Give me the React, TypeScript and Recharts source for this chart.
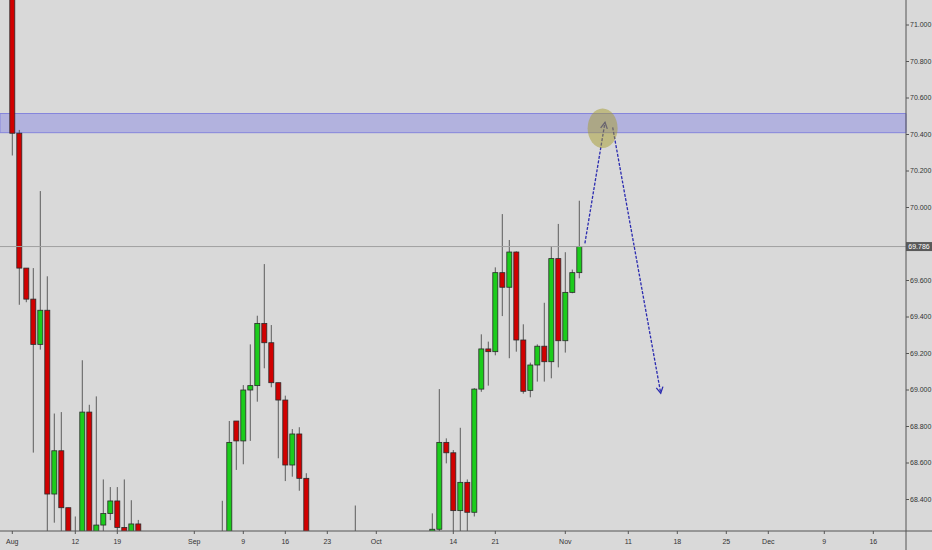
import React from 'react';
import {
  ComposedChart,
  Bar,
  XAxis,
  YAxis,
  ReferenceLine,
  ReferenceArea,
  ReferenceDot,
} from 'recharts';

// ---- data (daily candles, index = trading-day slot) ----
const candleIndex = [
  0, 1, 2, 3, 4, 5, 6, 7, 8, 9, 10, 11, 12, 13, 14, 15, 16, 17, 18,
  30, 31, 32, 33, 34, 35, 36, 37, 38, 39, 40, 41, 42,
  49,
  60, 61, 62, 63, 64, 65, 66, 67, 68, 69, 70, 71, 72, 73, 74, 75, 76, 77, 78, 79, 80, 81,
];
const openPrices = [
  71.6, 70.407, 69.668, 69.498, 69.25, 69.437, 68.43, 68.667, 68.355, 67.95, 68.05, 68.879, 68.05, 68.26, 68.323, 68.392, 68.247, 68.18, 68.266,
  67.95, 68.1, 68.83, 68.721, 69.0, 69.024, 69.365, 69.259, 69.04, 68.945, 68.589, 68.759, 68.516,
  67.95,
  68.18, 68.237, 68.713, 68.656, 68.339, 68.494, 68.33, 69.005, 69.225, 69.21, 69.643, 69.563, 69.756, 69.274, 68.998, 69.137, 69.24, 69.155, 69.72, 69.27, 69.535, 69.643,
];
const highPrices = [
  71.7, 70.425, 69.668, 69.668, 70.09, 69.623, 68.871, 68.879, 68.355, 68.307, 69.163, 68.919, 68.965, 68.51, 68.468, 68.468, 68.51, 68.396, 68.288,
  68.393, 68.83, 68.83, 69.027, 69.25, 69.407, 69.69, 69.356, 69.04, 68.969, 68.786, 68.796, 68.544,
  68.367,
  68.324, 69.005, 68.735, 68.671, 68.793, 68.51, 69.01, 69.305, 69.265, 69.672, 69.964, 69.822, 69.76, 69.36, 69.15, 69.25, 69.478, 69.789, 69.91, 69.755, 69.66, 70.037,
];
const lowPrices = [
  70.285, 69.467, 69.481, 68.657, 69.221, 68.15, 68.273, 68.15, 67.9, 67.85, 68.0, 67.95, 68.0, 68.15, 68.287, 68.2, 68.1, 68.1, 68.05,
  67.9, 68.05, 68.562, 68.593, 68.721, 68.936, 69.119, 69.015, 68.626, 68.501, 68.525, 68.448, 67.9,
  67.9,
  68.1, 68.2, 68.598, 68.1, 68.1, 68.15, 68.307, 68.99, 69.024, 69.19, 69.405, 69.174, 69.21, 68.98, 68.96, 69.046, 69.046, 69.064, 69.124, 69.205, 69.53, 69.612,
];
const closePrices = [
  70.407, 69.668, 69.498, 69.25, 69.437, 68.43, 68.667, 68.355, 68.0, 68.1, 68.879, 68.05, 68.26, 68.323, 68.392, 68.247, 68.18, 68.266, 68.15,
  68.15, 68.713, 68.721, 69.0, 69.024, 69.365, 69.259, 69.04, 68.945, 68.589, 68.759, 68.516, 68.0,
  68.1,
  68.237, 68.713, 68.656, 68.339, 68.494, 68.33, 69.005, 69.225, 69.21, 69.643, 69.563, 69.756, 69.274, 68.993, 69.137, 69.24, 69.155, 69.72, 69.27, 69.535, 69.643, 69.786,
];

// axis ticks
const dateTickIndex = [0, 9, 15, 26, 33, 39, 45, 52, 63, 69, 79, 88, 95, 102, 108, 116, 123];
const dateTickLabels = ['Aug', '12', '19', 'Sep', '9', '16', '23', 'Oct', '14', '21', 'Nov', '11', '18', '25', 'Dec', '9', '16'];
const priceTicks = [68.4, 68.6, 68.8, 69.0, 69.2, 69.4, 69.6, 70.0, 70.2, 70.4, 70.6, 70.8, 71.0];

// annotations
const lastPrice = 69.786;
const zoneLow = 70.41;
const zoneHigh = 70.515;
const targetMark = { x: 84.33, y: 70.434 };
const arrowUpPath = [
  { x: 81.8, y: 69.804 },
  { x: 84.67, y: 70.467 },
];
const arrowDownPath = [
  { x: 85.77, y: 70.439 },
  { x: 92.63, y: 68.982 },
];

const xDomain = [-1.757, 127.67];
const yDomain = [68.2274, 71.137];

const data = candleIndex.map((i, k) => ({
  i,
  open: openPrices[k],
  high: highPrices[k],
  low: lowPrices[k],
  close: closePrices[k],
  range: [lowPrices[k], highPrices[k]],
}));

const Candle = (props: any) => {
  const { x, y, width, height, payload } = props;
  if (!payload) return null;
  const { open, close, high, low } = payload;
  const cx = x + width / 2;
  const span = high - low || 1;
  const py = (v: number) => y + ((high - v) / span) * height;
  const up = close >= open;
  const top = py(Math.max(open, close));
  const bot = py(Math.min(open, close));
  return (
    <g>
      <line x1={cx} x2={cx} y1={py(high)} y2={py(low)} stroke="#5c5c5c" strokeWidth={1} />
      <rect
        x={cx - 2.5}
        y={top}
        width={5}
        height={Math.max(bot - top, 1.5)}
        fill={up ? '#1ccc1c' : '#d10000'}
        stroke="#2a2a2a"
        strokeWidth={0.8}
      />
    </g>
  );
};

const Arrow = (props: any) => {
  const { x1, y1, x2, y2 } = props;
  const ang = Math.atan2(y2 - y1, x2 - x1);
  const L = 7;
  const a = 0.5;
  const ax = x2 - L * Math.cos(ang - a);
  const ay = y2 - L * Math.sin(ang - a);
  const bx = x2 - L * Math.cos(ang + a);
  const by = y2 - L * Math.sin(ang + a);
  return (
    <g>
      <line x1={x1} y1={y1} x2={x2} y2={y2} stroke="#2b2bb0" strokeWidth={1.3} strokeDasharray="3 1.5" />
      <polyline points={`${ax},${ay} ${x2},${y2} ${bx},${by}`} fill="none" stroke="#2b2bb0" strokeWidth={1.3} />
    </g>
  );
};

const TargetEllipse = (props: any) => {
  const { cx, cy } = props;
  return <ellipse cx={cx} cy={cy} rx={15} ry={19.7} fill="rgba(165,155,45,0.5)" />;
};

const PriceLabel = (props: any) => {
  const vb = props.viewBox || {};
  const xr = (vb.x || 0) + (vb.width || 0);
  const yy = vb.y || 0;
  return (
    <g>
      <rect x={xr} y={yy - 4.5} width={26} height={9} fill="#5a5a5a" />
      <text
        x={xr + 13}
        y={yy + 2.6}
        textAnchor="middle"
        fontSize={7}
        fontFamily="Liberation Sans"
        fill="#ffffff"
      >
        {lastPrice.toFixed(3)}
      </text>
    </g>
  );
};

const tickFont = { fontSize: 7, fill: '#333333', fontFamily: 'Liberation Sans' };

export default function App() {
  return (
    <div style={{ position: 'absolute', left: 0, top: 0, width: 932, height: 550, background: '#d9d9d9' }}>
      <ComposedChart width={932} height={550} data={data} margin={{ top: 0, right: 0, bottom: 0, left: 0 }}>
        <XAxis
          dataKey="i"
          type="number"
          domain={xDomain}
          allowDataOverflow
          ticks={dateTickIndex}
          interval={0}
          height={19}
          tickSize={3}
          tickMargin={5}
          tick={tickFont}
          axisLine={{ stroke: '#555555' }}
          tickLine={{ stroke: '#555555' }}
          tickFormatter={(v: number) => {
            const k = dateTickIndex.indexOf(v);
            return k >= 0 ? dateTickLabels[k] : '';
          }}
        />
        <YAxis
          orientation="right"
          type="number"
          domain={yDomain}
          allowDataOverflow
          ticks={priceTicks}
          interval={0}
          width={26}
          tickSize={3}
          tickMargin={1}
          tick={tickFont}
          axisLine={{ stroke: '#555555' }}
          tickLine={{ stroke: '#555555' }}
          tickFormatter={(v: number) => v.toFixed(3)}
        />
        <ReferenceLine y={lastPrice} stroke="#a0a0a0" strokeWidth={1} label={PriceLabel} />
        <Bar dataKey="range" barSize={5} shape={Candle} isAnimationActive={false} />
        <ReferenceArea
          y1={zoneLow}
          y2={zoneHigh}
          fill="rgb(120,120,230)"
          fillOpacity={0.4}
          stroke="#8585dc"
          strokeWidth={1}
        />
        <ReferenceDot x={targetMark.x} y={targetMark.y} r={15} shape={TargetEllipse} />
        <ReferenceLine segment={arrowUpPath} shape={Arrow} />
        <ReferenceLine segment={arrowDownPath} shape={Arrow} />
      </ComposedChart>
      <svg
        width={932}
        height={550}
        style={{ position: 'absolute', left: 0, top: 0, pointerEvents: 'none' }}
      >
        <line x1={906} y1={531} x2={906} y2={550} stroke="#555555" strokeWidth={1} />
        <line x1={906} y1={531} x2={932} y2={531} stroke="#555555" strokeWidth={1} />
      </svg>
    </div>
  );
}
